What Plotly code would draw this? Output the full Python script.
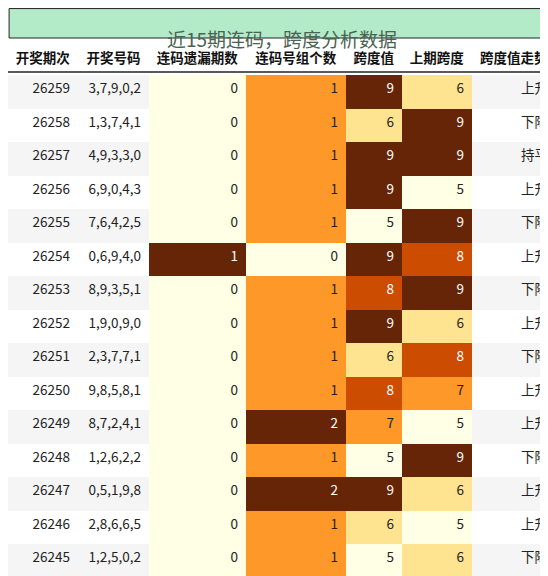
import plotly.graph_objects as go

periods = [26259, 26258, 26257, 26256, 26255, 26254, 26253, 26252, 26251, 26250, 26249, 26248, 26247, 26246, 26245]
numbers = ["3,7,9,0,2", "1,3,7,4,1", "4,9,3,3,0", "6,9,0,4,3", "7,6,4,2,5", "0,6,9,4,0", "8,9,3,5,1",
           "1,9,0,9,0", "2,3,7,7,1", "9,8,5,8,1", "8,7,2,4,1", "1,2,6,2,2", "0,5,1,9,8", "2,8,6,6,5", "1,2,5,0,2"]
miss = [0, 0, 0, 0, 0, 1, 0, 0, 0, 0, 0, 0, 0, 0, 0]
groups = [1, 1, 1, 1, 1, 0, 1, 1, 1, 1, 2, 1, 2, 1, 1]
span = [9, 6, 9, 9, 5, 9, 8, 9, 6, 8, 7, 5, 9, 6, 5]
prev_span = [6, 9, 9, 5, 9, 8, 9, 6, 8, 7, 5, 9, 6, 5, 6]
trend = ["上升", "下降", "持平", "上升", "下降", "上升", "下降", "上升", "下降", "上升", "上升", "下降", "上升", "上升", "下降"]
headers = ["开奖期次", "开奖号码", "连码遗漏期数", "连码号组个数", "跨度值", "上期跨度", "跨度值走势"]

LIGHT, PALE, ORANGE, DORANGE, BROWN = "#ffffe5", "#fee391", "#fe9929", "#cc4c02", "#662506"
span_col = {5: LIGHT, 6: PALE, 7: ORANGE, 8: DORANGE, 9: BROWN}
miss_col = {0: LIGHT, 1: BROWN}
grp_col = {0: LIGHT, 1: ORANGE, 2: BROWN}
dark = {BROWN, DORANGE}

stripe = ["#f5f5f5" if i % 2 == 0 else "white" for i in range(len(periods))]
fills = [stripe, stripe,
         [miss_col[v] for v in miss],
         [grp_col[v] for v in groups],
         [span_col[v] for v in span],
         [span_col[v] for v in prev_span],
         stripe]
fcolors = [["white" if c in dark else "#222" for c in col] for col in fills]

fig = go.Figure(go.Table(
    columnwidth=[70, 71, 97, 100, 56, 70, 84],
    domain=dict(x=[0, 1], y=[0, 1 - 31 / 576]),
    header=dict(values=["<b>%s</b>" % h for h in headers], height=34,
                fill_color="white", line=dict(width=0),
                font=dict(family="Noto Sans CJK SC", size=13.5, color="#111"), align="center"),
    cells=dict(values=[periods, numbers, miss, groups, span, prev_span, trend], height=33.5,
               fill_color=fills, line=dict(width=0),
               font=dict(family="Noto Sans CJK SC", size=13.5, color=fcolors),
               align=["right"] * 7),
))
fig.add_shape(type="rect", xref="paper", yref="paper", x0=0.002, x1=0.998, y0=1 - 30 / 576, y1=0.999,
              fillcolor="#b3ebc9", line=dict(color="#222", width=1))
fig.add_shape(type="line", xref="paper", yref="paper", x0=0, x1=1, y0=1 - 64 / 576, y1=1 - 64 / 576,
              line=dict(color="#222", width=1.5))
fig.add_annotation(text="近15期连码，跨度分析数据", xref="paper", yref="paper", x=0.5, y=1 - 15 / 576,
                   showarrow=False, font=dict(family="Noto Sans CJK SC", size=19, color="#4a6352"))
fig.update_layout(width=548, height=576, margin=dict(l=0, r=0, t=0, b=0), paper_bgcolor="white")
fig.write_html("out.html")
